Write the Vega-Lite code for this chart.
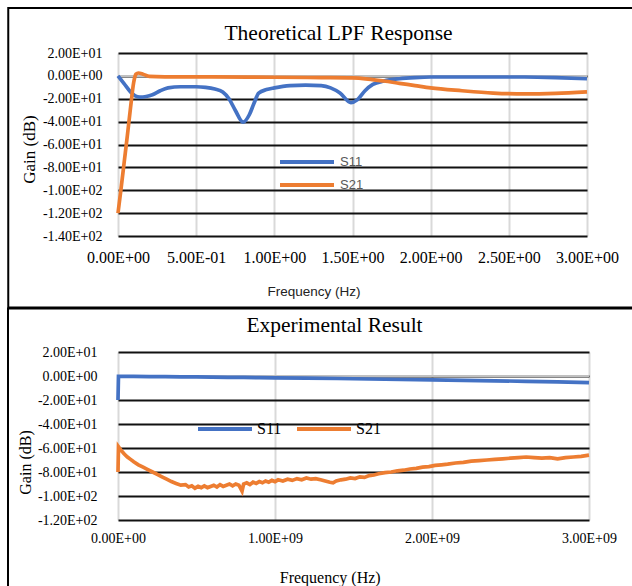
{
  "$schema": "https://vega.github.io/schema/vega-lite/v6.json",
  "padding": {"left": 7, "top": 7, "right": 0, "bottom": 0},
  "background": "white",
  "spacing": -2,
  "resolve": {"scale": {"color": "independent"}, "legend": {"color": "independent"}},
  "config": {
    "view": {"stroke": null},
    "font": "Liberation Serif",
    "axis": {"domain": false, "ticks": false, "labelFont": "Liberation Serif", "labelColor": "#000", "titleColor": "#000", "titleFontWeight": "normal", "labelFlush": false, "labelOverlap": false, "titleFont": "Liberation Serif"},
    "title": {"font": "Liberation Serif", "fontWeight": "normal", "color": "#000", "fontSize": 21.5}
  },
  "vconcat": [
    {
      "width": 469,
      "height": 183,
      "title": {"text": "Theoretical LPF Response", "anchor": "middle", "dx": -14, "offset": -37},
      "data": {"values": [
        {"f": 0, "gain": 0, "series": "S11"},
        {"f": 0.04, "gain": -7, "series": "S11"},
        {"f": 0.08, "gain": -14, "series": "S11"},
        {"f": 0.11, "gain": -17.5, "series": "S11"},
        {"f": 0.14, "gain": -18.5, "series": "S11"},
        {"f": 0.18, "gain": -18, "series": "S11"},
        {"f": 0.22, "gain": -16.5, "series": "S11"},
        {"f": 0.27, "gain": -13, "series": "S11"},
        {"f": 0.32, "gain": -10.5, "series": "S11"},
        {"f": 0.4, "gain": -9.5, "series": "S11"},
        {"f": 0.5, "gain": -9.5, "series": "S11"},
        {"f": 0.56, "gain": -10, "series": "S11"},
        {"f": 0.62, "gain": -11.5, "series": "S11"},
        {"f": 0.67, "gain": -14, "series": "S11"},
        {"f": 0.71, "gain": -20, "series": "S11"},
        {"f": 0.75, "gain": -30, "series": "S11"},
        {"f": 0.8, "gain": -40.5, "series": "S11"},
        {"f": 0.84, "gain": -34, "series": "S11"},
        {"f": 0.87, "gain": -24, "series": "S11"},
        {"f": 0.9, "gain": -15, "series": "S11"},
        {"f": 0.95, "gain": -12, "series": "S11"},
        {"f": 1.0, "gain": -10.5, "series": "S11"},
        {"f": 1.1, "gain": -8.5, "series": "S11"},
        {"f": 1.2, "gain": -8, "series": "S11"},
        {"f": 1.3, "gain": -8.5, "series": "S11"},
        {"f": 1.36, "gain": -10.5, "series": "S11"},
        {"f": 1.42, "gain": -15, "series": "S11"},
        {"f": 1.49, "gain": -23.5, "series": "S11"},
        {"f": 1.53, "gain": -21, "series": "S11"},
        {"f": 1.58, "gain": -13, "series": "S11"},
        {"f": 1.63, "gain": -7.5, "series": "S11"},
        {"f": 1.7, "gain": -4.5, "series": "S11"},
        {"f": 1.8, "gain": -2.5, "series": "S11"},
        {"f": 1.9, "gain": -1.5, "series": "S11"},
        {"f": 2.0, "gain": -1, "series": "S11"},
        {"f": 2.3, "gain": -1, "series": "S11"},
        {"f": 2.6, "gain": -1, "series": "S11"},
        {"f": 2.8, "gain": -1.5, "series": "S11"},
        {"f": 3.0, "gain": -2.5, "series": "S11"},
        {"f": 0, "gain": -120, "series": "S21"},
        {"f": 0.02, "gain": -98, "series": "S21"},
        {"f": 0.04, "gain": -75, "series": "S21"},
        {"f": 0.06, "gain": -52, "series": "S21"},
        {"f": 0.08, "gain": -28, "series": "S21"},
        {"f": 0.1, "gain": -6, "series": "S21"},
        {"f": 0.115, "gain": 1.5, "series": "S21"},
        {"f": 0.13, "gain": 2.5, "series": "S21"},
        {"f": 0.16, "gain": 1.5, "series": "S21"},
        {"f": 0.2, "gain": -0.5, "series": "S21"},
        {"f": 0.3, "gain": -0.8, "series": "S21"},
        {"f": 0.6, "gain": -0.9, "series": "S21"},
        {"f": 1.0, "gain": -1.2, "series": "S21"},
        {"f": 1.3, "gain": -1.5, "series": "S21"},
        {"f": 1.5, "gain": -1.8, "series": "S21"},
        {"f": 1.6, "gain": -2.8, "series": "S21"},
        {"f": 1.7, "gain": -4.5, "series": "S21"},
        {"f": 1.8, "gain": -6.5, "series": "S21"},
        {"f": 1.9, "gain": -8.5, "series": "S21"},
        {"f": 2.0, "gain": -10.5, "series": "S21"},
        {"f": 2.2, "gain": -13, "series": "S21"},
        {"f": 2.4, "gain": -15, "series": "S21"},
        {"f": 2.6, "gain": -15.8, "series": "S21"},
        {"f": 2.8, "gain": -15.3, "series": "S21"},
        {"f": 3.0, "gain": -14, "series": "S21"}
      ]},
      "layer": [
        {
          "data": {"values": [{}]},
          "mark": {"type": "rect", "filled": false, "stroke": "#000", "strokeWidth": 2, "clip": false},
          "encoding": {"x": {"datum": -0.702}, "x2": {"datum": 3.72}, "y": {"datum": 59.3}, "y2": {"datum": -202.5}}
        },
        {
          "data": {"values": [{}]},
          "mark": {"type": "rule", "color": "#c0c0c0", "strokeWidth": 2},
          "encoding": {"y": {"datum": 0}}
        },
        {
          "mark": {"type": "line", "interpolate": "monotone", "strokeWidth": 3.7},
          "encoding": {
            "x": {"field": "f", "type": "quantitative", "scale": {"domain": [0, 3], "nice": false, "zero": false},
              "axis": {"values": [0, 0.5, 1, 1.5, 2, 2.5, 3], "tickCount": 30, "labelExpr": "replace(replace(upper(format(datum.value, '.2e')), '−', '-'), regexp('E([+-])([0-9])$'), 'E$10$2')", "labelFont": "Liberation Serif", "labelFontSize": 16, "labelPadding": 13, "labelOverlap": false, "grid": true, "gridColor": "#d9d9d9", "gridWidth": 2, "title": "Frequency (Hz)", "titleFont": "Liberation Sans", "titleFontSize": 13.5, "titleColor": "#222", "titleX": 195.5, "titleY": 55, "titleBaseline": "middle"}},
            "y": {"field": "gain", "type": "quantitative", "scale": {"domain": [-140, 20], "nice": false, "zero": false},
              "axis": {"values": [-140, -120, -100, -80, -60, -40, -20, 0, 20], "tickCount": 30, "labelExpr": "replace(replace(upper(format(datum.value, '.2e')), '−', '-'), regexp('E([+-])([0-9])$'), 'E$10$2')", "labelFont": "Liberation Serif", "labelFontSize": 14, "labelPadding": 16, "labelOverlap": false, "grid": true, "gridColor": "#111", "gridWidth": 2, "title": "Gain (dB)", "titleFont": "Liberation Serif", "titleFontSize": 17, "titleX": -89, "titleY": 96, "titleBaseline": "middle", "titleAngle": 270}},
            "color": {"field": "series", "type": "nominal", "scale": {"domain": ["S11", "S21"], "range": ["#4472C4", "#ED7D31"]},
              "legend": {"orient": "none", "legendX": 181, "legendY": 101, "title": null, "direction": "vertical", "columns": 1, "symbolType": "M-4.5,0H4.5", "symbolSize": 144, "symbolStrokeWidth": 4, "labelFont": "Liberation Sans", "labelFontSize": 13, "labelColor": "#595959", "labelOffset": 25, "rowPadding": 7, "padding": 0}}
          }
        }
      ]
    },
    {
      "width": 471,
      "height": 168,
      "title": {"text": "Experimental Result", "anchor": "middle", "dx": -19, "offset": -29},
      "data": {"values": [
        {"f": 0, "gain": -20, "series": "S11"},
        {"f": 3e6, "gain": -0.2, "series": "S11"},
        {"f": 1e8, "gain": -0.3, "series": "S11"},
        {"f": 2e8, "gain": -0.5, "series": "S11"},
        {"f": 3e8, "gain": -0.5, "series": "S11"},
        {"f": 4e8, "gain": -0.7, "series": "S11"},
        {"f": 5e8, "gain": -0.8, "series": "S11"},
        {"f": 6e8, "gain": -0.9, "series": "S11"},
        {"f": 7e8, "gain": -1.1, "series": "S11"},
        {"f": 8e8, "gain": -1.2, "series": "S11"},
        {"f": 9e8, "gain": -1.4, "series": "S11"},
        {"f": 1e9, "gain": -1.5, "series": "S11"},
        {"f": 1.2e9, "gain": -1.8, "series": "S11"},
        {"f": 1.4e9, "gain": -2.1, "series": "S11"},
        {"f": 1.6e9, "gain": -2.5, "series": "S11"},
        {"f": 1.8e9, "gain": -2.9, "series": "S11"},
        {"f": 2e9, "gain": -3.2, "series": "S11"},
        {"f": 2.2e9, "gain": -3.6, "series": "S11"},
        {"f": 2.4e9, "gain": -4.0, "series": "S11"},
        {"f": 2.6e9, "gain": -4.4, "series": "S11"},
        {"f": 2.8e9, "gain": -4.9, "series": "S11"},
        {"f": 3e9, "gain": -5.5, "series": "S11"},
        {"f": 0, "gain": -80, "series": "S21"},
        {"f": 3e6, "gain": -59, "series": "S21"},
        {"f": 2e7, "gain": -62, "series": "S21"},
        {"f": 4e7, "gain": -65, "series": "S21"},
        {"f": 6e7, "gain": -67.5, "series": "S21"},
        {"f": 8e7, "gain": -69.5, "series": "S21"},
        {"f": 1e8, "gain": -71.5, "series": "S21"},
        {"f": 1.3e8, "gain": -74, "series": "S21"},
        {"f": 1.6e8, "gain": -76, "series": "S21"},
        {"f": 1.9e8, "gain": -78, "series": "S21"},
        {"f": 2.2e8, "gain": -80, "series": "S21"},
        {"f": 2.5e8, "gain": -82, "series": "S21"},
        {"f": 2.8e8, "gain": -84, "series": "S21"},
        {"f": 3.1e8, "gain": -86, "series": "S21"},
        {"f": 3.4e8, "gain": -88, "series": "S21"},
        {"f": 3.7e8, "gain": -89.5, "series": "S21"},
        {"f": 4.0e8, "gain": -91, "series": "S21"},
        {"f": 4.3e8, "gain": -90.5, "series": "S21"},
        {"f": 4.5e8, "gain": -92.5, "series": "S21"},
        {"f": 4.7e8, "gain": -91.5, "series": "S21"},
        {"f": 4.9e8, "gain": -93.5, "series": "S21"},
        {"f": 5.1e8, "gain": -92, "series": "S21"},
        {"f": 5.3e8, "gain": -93, "series": "S21"},
        {"f": 5.5e8, "gain": -91.5, "series": "S21"},
        {"f": 5.7e8, "gain": -93, "series": "S21"},
        {"f": 5.9e8, "gain": -92, "series": "S21"},
        {"f": 6.1e8, "gain": -91, "series": "S21"},
        {"f": 6.3e8, "gain": -92.5, "series": "S21"},
        {"f": 6.5e8, "gain": -90.5, "series": "S21"},
        {"f": 6.7e8, "gain": -92, "series": "S21"},
        {"f": 6.9e8, "gain": -91, "series": "S21"},
        {"f": 7.1e8, "gain": -90, "series": "S21"},
        {"f": 7.3e8, "gain": -91.5, "series": "S21"},
        {"f": 7.5e8, "gain": -90, "series": "S21"},
        {"f": 7.7e8, "gain": -91, "series": "S21"},
        {"f": 7.9e8, "gain": -96, "series": "S21"},
        {"f": 8.0e8, "gain": -90, "series": "S21"},
        {"f": 8.2e8, "gain": -89, "series": "S21"},
        {"f": 8.4e8, "gain": -90.5, "series": "S21"},
        {"f": 8.6e8, "gain": -88.5, "series": "S21"},
        {"f": 8.8e8, "gain": -89.5, "series": "S21"},
        {"f": 9.0e8, "gain": -88, "series": "S21"},
        {"f": 9.2e8, "gain": -89, "series": "S21"},
        {"f": 9.4e8, "gain": -87.5, "series": "S21"},
        {"f": 9.6e8, "gain": -88.5, "series": "S21"},
        {"f": 9.8e8, "gain": -87, "series": "S21"},
        {"f": 1.00e9, "gain": -88, "series": "S21"},
        {"f": 1.02e9, "gain": -86.5, "series": "S21"},
        {"f": 1.05e9, "gain": -87.5, "series": "S21"},
        {"f": 1.08e9, "gain": -86, "series": "S21"},
        {"f": 1.11e9, "gain": -87, "series": "S21"},
        {"f": 1.14e9, "gain": -85.5, "series": "S21"},
        {"f": 1.17e9, "gain": -86.5, "series": "S21"},
        {"f": 1.20e9, "gain": -85, "series": "S21"},
        {"f": 1.23e9, "gain": -86, "series": "S21"},
        {"f": 1.26e9, "gain": -85.5, "series": "S21"},
        {"f": 1.29e9, "gain": -86.5, "series": "S21"},
        {"f": 1.32e9, "gain": -87.5, "series": "S21"},
        {"f": 1.35e9, "gain": -88.5, "series": "S21"},
        {"f": 1.37e9, "gain": -89, "series": "S21"},
        {"f": 1.39e9, "gain": -87.5, "series": "S21"},
        {"f": 1.42e9, "gain": -86.5, "series": "S21"},
        {"f": 1.45e9, "gain": -86, "series": "S21"},
        {"f": 1.48e9, "gain": -85, "series": "S21"},
        {"f": 1.51e9, "gain": -85.5, "series": "S21"},
        {"f": 1.54e9, "gain": -84, "series": "S21"},
        {"f": 1.57e9, "gain": -84.5, "series": "S21"},
        {"f": 1.60e9, "gain": -83, "series": "S21"},
        {"f": 1.63e9, "gain": -82.5, "series": "S21"},
        {"f": 1.66e9, "gain": -81.5, "series": "S21"},
        {"f": 1.70e9, "gain": -80.5, "series": "S21"},
        {"f": 1.74e9, "gain": -80, "series": "S21"},
        {"f": 1.78e9, "gain": -79, "series": "S21"},
        {"f": 1.82e9, "gain": -78.5, "series": "S21"},
        {"f": 1.86e9, "gain": -77.5, "series": "S21"},
        {"f": 1.90e9, "gain": -77, "series": "S21"},
        {"f": 1.94e9, "gain": -76, "series": "S21"},
        {"f": 1.98e9, "gain": -75.5, "series": "S21"},
        {"f": 2.02e9, "gain": -74.5, "series": "S21"},
        {"f": 2.06e9, "gain": -74, "series": "S21"},
        {"f": 2.10e9, "gain": -73.5, "series": "S21"},
        {"f": 2.15e9, "gain": -72.5, "series": "S21"},
        {"f": 2.20e9, "gain": -72, "series": "S21"},
        {"f": 2.25e9, "gain": -71, "series": "S21"},
        {"f": 2.30e9, "gain": -70.5, "series": "S21"},
        {"f": 2.35e9, "gain": -70, "series": "S21"},
        {"f": 2.40e9, "gain": -69.5, "series": "S21"},
        {"f": 2.45e9, "gain": -69, "series": "S21"},
        {"f": 2.50e9, "gain": -68.5, "series": "S21"},
        {"f": 2.55e9, "gain": -68, "series": "S21"},
        {"f": 2.60e9, "gain": -67.5, "series": "S21"},
        {"f": 2.65e9, "gain": -68, "series": "S21"},
        {"f": 2.70e9, "gain": -68.5, "series": "S21"},
        {"f": 2.75e9, "gain": -68, "series": "S21"},
        {"f": 2.80e9, "gain": -69, "series": "S21"},
        {"f": 2.85e9, "gain": -68, "series": "S21"},
        {"f": 2.90e9, "gain": -67.5, "series": "S21"},
        {"f": 2.95e9, "gain": -67, "series": "S21"},
        {"f": 3.00e9, "gain": -66, "series": "S21"}
      ]},
      "layer": [
        {
          "data": {"values": [{}]},
          "mark": {"type": "rect", "filled": false, "stroke": "#000", "strokeWidth": 2, "clip": false},
          "encoding": {"x": {"datum": -700600000}, "x2": {"datum": 3700000000}, "y": {"datum": 56.25}, "y2": {"datum": -229}}
        },
        {
          "data": {"values": [{}]},
          "mark": {"type": "rule", "color": "#c0c0c0", "strokeWidth": 2},
          "encoding": {"y": {"datum": 0}}
        },
        {
          "mark": {"type": "line", "strokeWidth": 3.7},
          "encoding": {
            "x": {"field": "f", "type": "quantitative", "scale": {"domain": [0, 3000000000], "nice": false, "zero": false},
              "axis": {"values": [0, 1000000000, 2000000000, 3000000000], "tickCount": 30, "labelExpr": "replace(replace(upper(format(datum.value, '.2e')), '−', '-'), regexp('E([+-])([0-9])$'), 'E$10$2')", "labelFont": "Liberation Serif", "labelFontSize": 14, "labelPadding": 11, "labelOverlap": false, "grid": true, "gridColor": "#d9d9d9", "gridWidth": 2, "title": "Frequency (Hz)", "titleFont": "Liberation Serif", "titleFontSize": 16, "titleX": 211.7, "titleY": 57.7, "titleBaseline": "middle"}},
            "y": {"field": "gain", "type": "quantitative", "scale": {"domain": [-120, 20], "nice": false, "zero": false},
              "axis": {"values": [-120, -100, -80, -60, -40, -20, 0, 20], "tickCount": 30, "labelExpr": "replace(replace(upper(format(datum.value, '.2e')), '−', '-'), regexp('E([+-])([0-9])$'), 'E$10$2')", "labelFont": "Liberation Serif", "labelFontSize": 14, "labelPadding": 21, "labelOverlap": false, "grid": true, "gridColor": "#111", "gridWidth": 2, "title": "Gain (dB)", "titleFont": "Liberation Serif", "titleFontSize": 16, "titleX": -93, "titleY": 110, "titleBaseline": "middle", "titleAngle": 270}},
            "color": {"field": "series", "type": "nominal", "scale": {"domain": ["S11", "S21"], "range": ["#4472C4", "#ED7D31"]},
              "legend": {"orient": "none", "legendX": 99, "legendY": 69, "title": null, "direction": "horizontal", "columns": 2, "columnPadding": 7, "symbolType": "M-4.5,0H4.5", "symbolSize": 144, "symbolStrokeWidth": 4, "labelFont": "Liberation Serif", "labelFontSize": 16, "labelColor": "#000", "labelOffset": 24, "padding": 0}}
          }
        }
      ]
    }
  ]
}
